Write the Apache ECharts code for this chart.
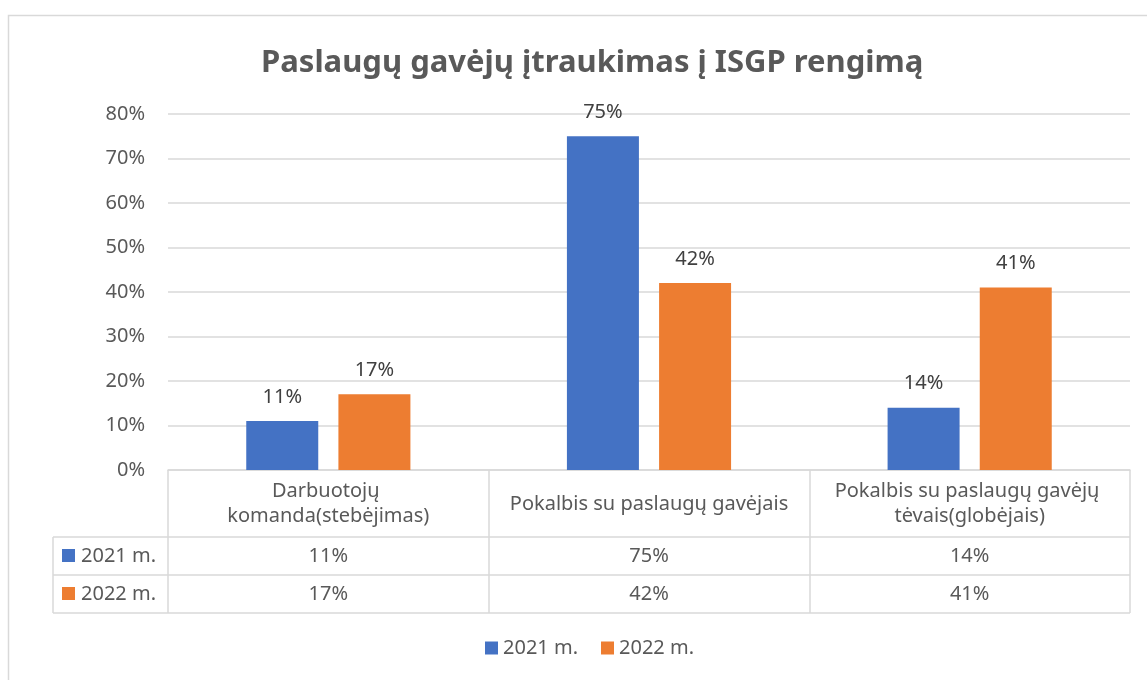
<!DOCTYPE html>
<html>
<head>
<meta charset="utf-8">
<script src="https://cdn.jsdelivr.net/npm/echarts@6/dist/echarts.min.js"></script>
<style>
html,body{margin:0;padding:0;background:#fff;}
#main{width:1147px;height:680px;}
</style>
</head>
<body>
<div id="main"></div>
<script>
//duomenys
var categories=["Darbuotojų komanda(stebėjimas)","Pokalbis su paslaugų gavėjais","Pokalbis su paslaugų gavėjų tėvais(globėjais)"];
var seriesNames=["2021 m.","2022 m."];
var values2021=[11,75,14];
var values2022=[17,42,41];
var colors=["#4472c4","#ed7d31"];
var yTicks=[0,10,20,30,40,50,60,70,80];

var FONT="'Noto Sans', 'Liberation Sans', sans-serif";
var TXT="#595959";
var LINE="#d9d9d9";
var FS=20;

//lentelės matmenys
var gridLeft=168, gridRight=1130, gridTop=114, gridBottom=470;
var rowH=38, headH=67, tableLeft=53;

var myChart=echarts.init(document.getElementById('main'));

function barSeries(name,data,color){
    return {
        name:name,
        type:'bar',
        data:data,
        barWidth:72,
        barGap:'28%',
        itemStyle:{color:color},
        label:{
            show:true,
            position:'top',
            distance:14,
            formatter:'{c}%',
            fontFamily:FONT,
            fontSize:FS,
            color:'#404040'
        }
    };
}

var option={
    textStyle:{fontFamily:FONT},
    title:{
        text:'Paslaugų gavėjų įtraukimas į ISGP rengimą',
        left:256,
        top:43,
        textStyle:{fontFamily:FONT,fontSize:31,fontWeight:'bold',color:TXT}
    },
    legend:{
        data:seriesNames,
        bottom:17,
        left:480,
        icon:'rect',
        itemWidth:13,
        itemHeight:13,
        itemGap:23,
        textStyle:{fontFamily:FONT,fontSize:FS,color:TXT}
    },
    grid:{
        left:gridLeft,
        right:1147-gridRight,
        top:gridTop,
        bottom:680-gridBottom,
        outerBoundsMode:'none'
    },
    xAxis:{
        type:'category',
        data:categories,
        axisLine:{lineStyle:{color:LINE,width:1.5}},
        axisTick:{show:true,length:headH+2*rowH,alignWithLabel:false,lineStyle:{color:LINE,width:1.5}},
        axisLabel:{
            interval:0,
            margin:34,
            verticalAlign:'middle',
            width:300,
            overflow:'break',
            lineHeight:25,
            fontFamily:FONT,
            fontSize:FS,
            color:TXT
        }
    },
    yAxis:{
        type:'value',
        min:yTicks[0],
        max:yTicks[yTicks.length-1],
        interval:10,
        axisLine:{show:false},
        axisTick:{show:false},
        splitLine:{lineStyle:{color:LINE,width:1.5}},
        axisLabel:{margin:23,fontFamily:FONT,fontSize:FS,color:TXT,formatter:'{value}%'}
    },
    series:[
        barSeries(seriesNames[0],values2021,colors[0]),
        barSeries(seriesNames[1],values2022,colors[1])
    ]
};
myChart.setOption(option);

//lentelė po ašimi
function buildTable(){
    var g=[];
    g.push({type:'rect',shape:{x:8.5,y:15.5,width:1160,height:700},style:{fill:null,stroke:LINE,lineWidth:1.5},silent:true,z:-1});
    var rowsData=[values2021,values2022];
    for(var r=0;r<=2;r++){
        var y=gridBottom+headH+r*rowH;
        g.push({type:'line',shape:{x1:tableLeft,y1:y,x2:gridRight,y2:y},style:{stroke:LINE,lineWidth:1.5},silent:true});
    }
    g.push({type:'line',shape:{x1:tableLeft,y1:gridBottom+headH,x2:tableLeft,y2:gridBottom+headH+2*rowH},style:{stroke:LINE,lineWidth:1.5},silent:true});
    for(var s=0;s<2;s++){
        var cy=gridBottom+headH+s*rowH+rowH/2;
        g.push({type:'rect',shape:{x:62,y:cy-7,width:13,height:13},style:{fill:colors[s]},silent:true});
        g.push({type:'text',x:81,y:cy,style:{text:seriesNames[s],font:FS+'px '+FONT,fill:TXT,verticalAlign:'middle',align:'left'},silent:true});
        for(var c=0;c<categories.length;c++){
            var cx=myChart.convertToPixel({xAxisIndex:0},c);
            g.push({type:'text',x:cx,y:cy,style:{text:rowsData[s][c]+'%',font:FS+'px '+FONT,fill:TXT,verticalAlign:'middle',align:'center'},silent:true});
        }
    }
    myChart.setOption({graphic:g});
}
buildTable();
</script>
</body>
</html>
